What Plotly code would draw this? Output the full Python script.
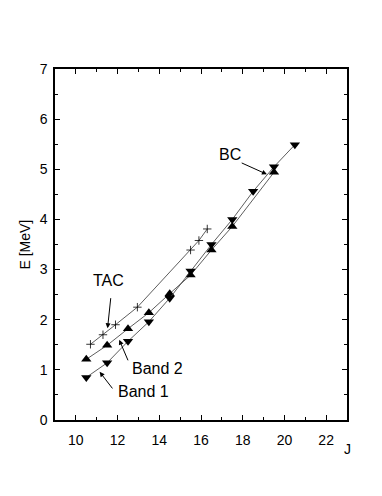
import plotly.graph_objects as go

# Band 1 (down triangles)
band1_j = [10.5, 11.5, 12.5, 13.5, 14.5, 15.5, 16.5, 17.5, 18.5, 19.5, 20.5]
band1_e = [0.85, 1.14, 1.57, 1.96, 2.43, 2.97, 3.50, 4.00, 4.56, 5.05, 5.49]

# Band 2 (up triangles)
band2_j = [10.5, 11.5, 12.5, 13.5, 14.5, 15.5, 16.5, 17.5, 19.5]
band2_e = [1.21, 1.49, 1.82, 2.14, 2.52, 2.89, 3.39, 3.86, 4.94]

# TAC calculation (crosses)
tac_j = [10.7, 11.3, 11.9, 12.95, 15.5, 15.9, 16.3]
tac_e = [1.51, 1.70, 1.90, 2.25, 3.39, 3.58, 3.81]

x_ticks = [10, 12, 14, 16, 18, 20, 22]
y_ticks = [0, 1, 2, 3, 4, 5, 6, 7]

FONT = "Liberation Sans, Arial, sans-serif"
LINE = dict(color="#333333", width=0.8)

fig = go.Figure()
fig.add_trace(go.Scatter(x=tac_j, y=tac_e, mode="lines+markers", line=LINE,
                         marker=dict(symbol="cross-thin", size=6, color="black",
                                     line=dict(color="black", width=0.8))))
fig.add_trace(go.Scatter(x=band2_j, y=band2_e, mode="lines+markers", line=LINE,
                         marker=dict(symbol="triangle-up", size=9, color="black")))
fig.add_trace(go.Scatter(x=band1_j, y=band1_e, mode="lines+markers", line=LINE,
                         marker=dict(symbol="triangle-down", size=9, color="black")))

axis_common = dict(showline=True, linewidth=1.5, linecolor="black", mirror="ticks",
                   ticks="inside", ticklen=5, tickwidth=1, tickcolor="black",
                   showgrid=False, zeroline=False,
                   tickfont=dict(family=FONT, size=14, color="black"))

fig.update_xaxes(range=[9, 23], tickvals=x_ticks, ticklabelstandoff=6,
                 minor=dict(dtick=1, tick0=0, ticks="inside", ticklen=3, tickcolor="black"),
                 **axis_common)
fig.update_yaxes(range=[0, 7], tickvals=y_ticks, ticklabelstandoff=3,
                 minor=dict(dtick=0.5, tick0=0, ticks="inside", ticklen=3, tickcolor="black"),
                 **axis_common)

labels = [("TAC", 11.57, 2.79), ("Band 2", 13.9, 1.03), ("Band 1", 13.24, 0.56), ("BC", 17.37, 5.29)]
arrows = [(11.52, 1.83, 11.68, 2.46), (12.08, 1.60, 12.53, 1.16),
          (11.14, 0.96, 11.81, 0.60), (19.16, 4.90, 17.88, 5.14)]

for text, x, y in labels:
    fig.add_annotation(x=x, y=y, text=text, showarrow=False,
                       font=dict(family=FONT, size=16, color="black"))
for x, y, ax, ay in arrows:
    fig.add_annotation(x=x, y=y, ax=ax, ay=ay, axref="x", ayref="y", text="",
                       showarrow=True, arrowhead=2, arrowsize=1, arrowwidth=1,
                       arrowcolor="black")

fig.add_annotation(xref="paper", yref="paper", x=-0.106, y=0.5, text="E [MeV]",
                   textangle=-90, showarrow=False, xanchor="center", yanchor="middle",
                   font=dict(family=FONT, size=14, color="black"))
fig.add_annotation(xref="paper", yref="paper", x=1.003, y=-0.083, text="J",
                   showarrow=False, xanchor="center", yanchor="middle",
                   font=dict(family=FONT, size=14, color="black"))

# page has an 8px body margin, so shrink the figure and shift the margins
fig.update_layout(width=374, height=488, showlegend=False,
                  margin=dict(l=47, r=35, t=61, b=76),
                  plot_bgcolor="white", paper_bgcolor="white",
                  font=dict(family=FONT, color="black"))

fig.write_html("out.html")
